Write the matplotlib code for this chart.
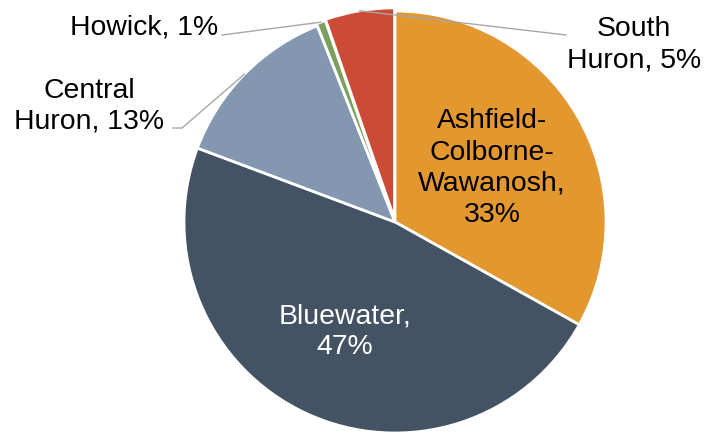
import numpy as np
import matplotlib
matplotlib.use('Agg')
import matplotlib.pyplot as plt

plt.rcParams['font.family'] = ['Liberation Sans', 'DejaVu Sans']

categories = ['Ashfield-Colborne-Wawanosh', 'Bluewater', 'Central Huron', 'Howick', 'South Huron']
values = [33.1, 47.6, 13.3, 0.7, 5.3]
label_texts = ['Ashfield-\nColborne-\nWawanosh,\n33%', 'Bluewater,\n47%',
               'Central\nHuron, 13%', 'Howick, 1%', 'South\nHuron, 5%']
colors = ['#E3982F', '#435364', '#8497B0', '#7BA05B', '#CC4B37']
explode = [0, 0, 0, 0.01, 0.015]

W, H = 706, 433
fig = plt.figure(figsize=(W / 100, H / 100), dpi=100)
cx, cy, R = 395, 222, 211
ax = fig.add_axes([(cx - R) / W, (H - cy - R) / H, 2 * R / W, 2 * R / H])
wedges, _ = ax.pie(values, colors=colors, startangle=90, counterclock=False,
                   radius=1, explode=explode,
                   wedgeprops=dict(edgecolor='white', linewidth=2))
for w in wedges:
    w.set_clip_on(False)
ax.set_xlim(-1, 1)
ax.set_ylim(-1, 1)
ax.set_aspect('equal')
ax.axis('off')


def P(px, py):
    return ((px - cx) / R, (cy - py) / R)


def anchor(w, r=1.0):
    t = np.deg2rad((w.theta1 + w.theta2) / 2)
    c = w.center
    return (c[0] + r * np.cos(t), c[1] + r * np.sin(t))


line_kw = dict(color='#A6A6A6', lw=1.0, clip_on=False, zorder=5)


def leader(w, pts):
    a = anchor(w)
    xs = [a[0]] + [P(*p)[0] for p in pts]
    ys = [a[1]] + [P(*p)[1] for p in pts]
    ax.plot(xs, ys, **line_kw)


leader(wedges[3], [(222, 35)])
leader(wedges[2], [(182, 128), (173, 128)])
leader(wedges[4], [(566, 35)])

fs = 20.4
ls = 1.25
ax.text(*P(492, 168), label_texts[0], ha='center', va='center', fontsize=fs,
        color='black', linespacing=ls)
ax.text(*P(345, 332), label_texts[1], ha='center', va='center', fontsize=fs,
        color='white', linespacing=ls)
ax.text(*P(89, 106), label_texts[2], ha='center', va='center', fontsize=fs,
        color='black', linespacing=ls)
ax.text(*P(218, 28), label_texts[3], ha='right', va='center', fontsize=fs,
        color='black')
ax.text(*P(634, 45), label_texts[4], ha='center', va='center', fontsize=fs,
        color='black', linespacing=ls)

fig.savefig('out.png', dpi=100)
